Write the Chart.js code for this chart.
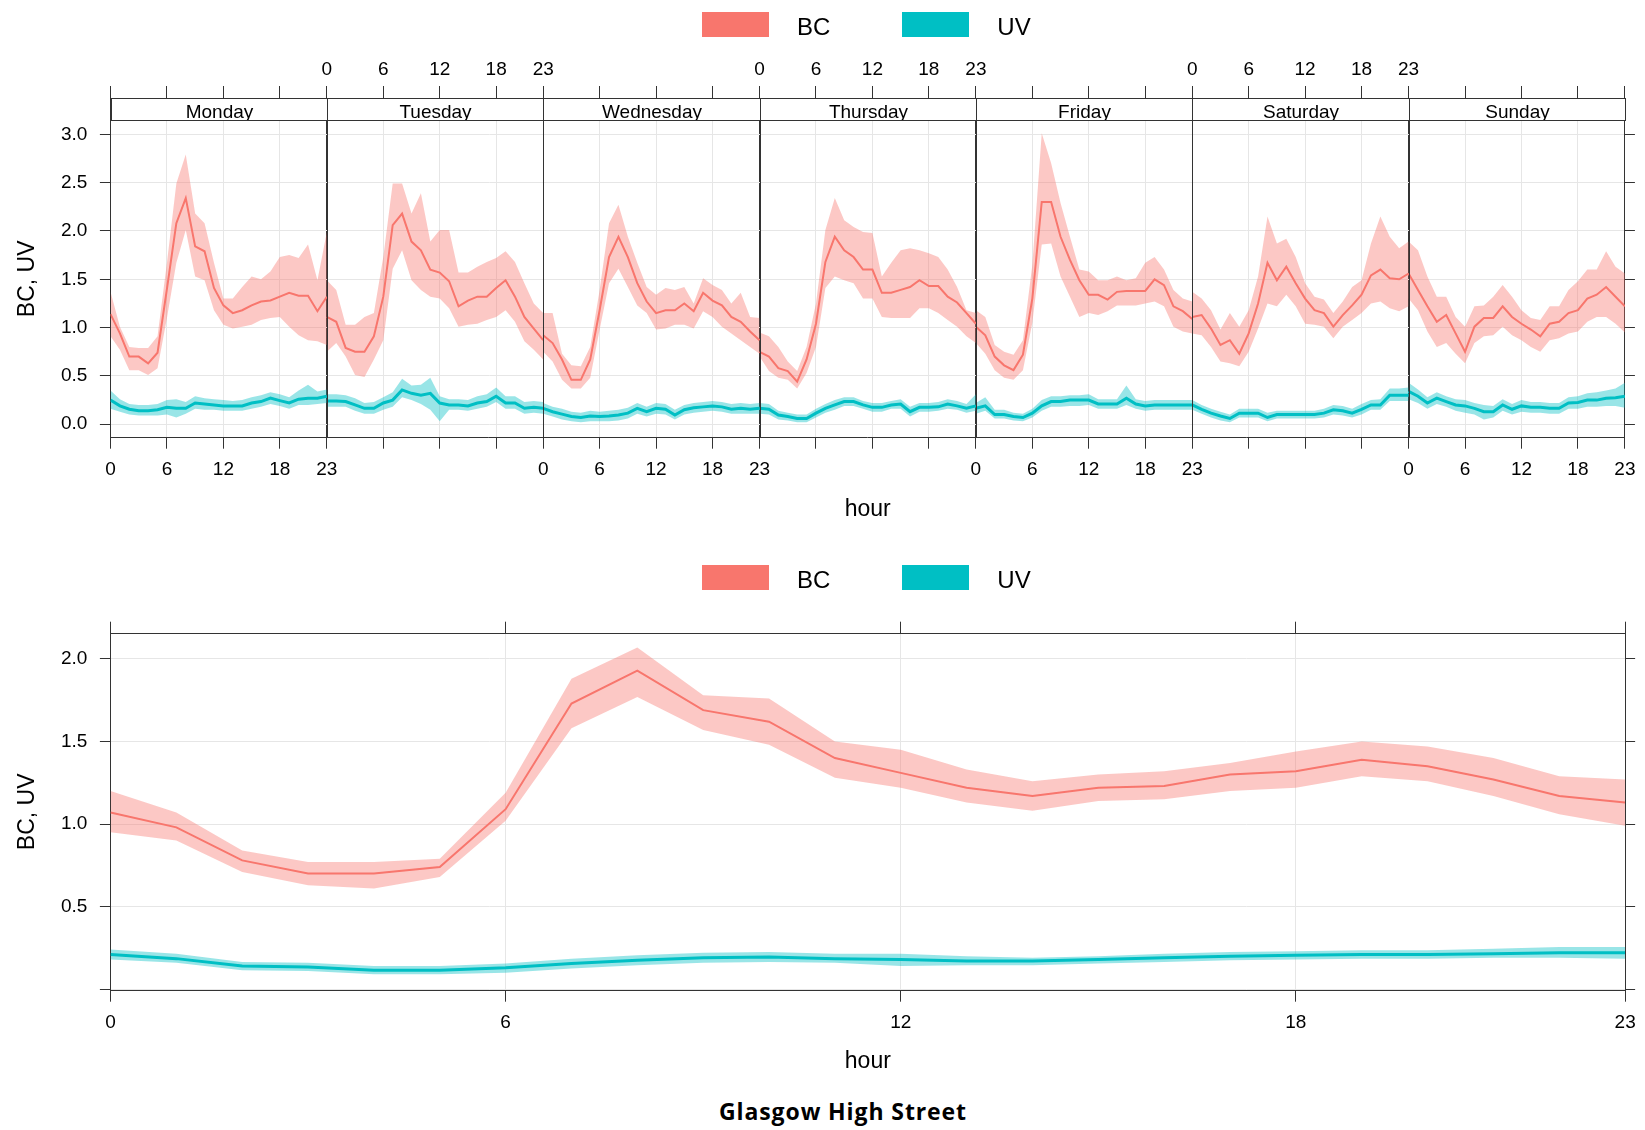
<!DOCTYPE html>
<html lang="en">
<head>
<meta charset="UTF-8">
<title>Glasgow High Street</title>
<script src="https://cdn.jsdelivr.net/npm/chart.js"></script>
<style>
  body { margin: 0; background: #fff; font-family: "Liberation Sans", Arial, sans-serif; }
  #page { position: relative; width: 1645px; height: 1130px; overflow: hidden; }
  canvas { position: absolute; left: 0; }
  .legend { position: absolute; left: 702px; display: flex; align-items: center; font-size: 24px; color: #000; }
  .legend .box { width: 67px; height: 25px; }
  .legend .txt { margin-left: 28px; margin-right: 72px; position: relative; top: 3px; }
  #title { position: absolute; top: 1095px; left: 843px; transform: translateX(-50%); white-space: nowrap;
           font: 700 23px "Open Sans", sans-serif; line-height: 32px; letter-spacing: 0.9px; color: #000; }
</style>
</head>
<body>
<div id="page">
  <canvas id="weekChart" width="1645" height="540" style="top:0"></canvas>
  <canvas id="hourChart" width="1645" height="540" style="top:540px"></canvas>
  <div class="legend" style="top:10px">
    <div class="box" style="background:#F8766D"></div><span class="txt">BC</span>
    <div class="box" style="background:#00BFC4"></div><span class="txt">UV</span>
  </div>
  <div class="legend" style="top:563px">
    <div class="box" style="background:#F8766D"></div><span class="txt">BC</span>
    <div class="box" style="background:#00BFC4"></div><span class="txt">UV</span>
  </div>
  <div id="title">Glasgow High Street</div>
</div>
<script>
  // ---- data ----
  const days = ['Monday', 'Tuesday', 'Wednesday', 'Thursday', 'Friday', 'Saturday', 'Sunday'];
  const hours = [0, 1, 2, 3, 4, 5, 6, 7, 8, 9, 10, 11, 12, 13, 14, 15, 16, 17, 18, 19, 20, 21, 22, 23];
  const hourTicks = [0, 6, 12, 18, 23];
  const weekYTicks = [0.0, 0.5, 1.0, 1.5, 2.0, 2.5, 3.0];
  const hourYTicks = [0.0, 0.5, 1.0, 1.5, 2.0];

  // BC by day of week and hour (mean, lower, upper)
  const bcMean = [
    [1.14,0.94,0.70,0.70,0.63,0.74,1.40,2.08,2.34,1.84,1.79,1.41,1.23,1.15,1.18,1.23,1.27,1.28,1.32,1.36,1.33,1.33,1.17,1.32],
    [1.11,1.06,0.79,0.75,0.75,0.91,1.32,2.06,2.18,1.89,1.80,1.60,1.57,1.48,1.22,1.28,1.32,1.32,1.41,1.49,1.32,1.11,0.99,0.87],
    [0.92,0.84,0.67,0.46,0.46,0.67,1.18,1.73,1.94,1.73,1.46,1.27,1.15,1.18,1.18,1.25,1.17,1.36,1.28,1.23,1.11,1.06,0.96,0.87],
    [0.75,0.70,0.58,0.55,0.44,0.67,1.04,1.68,1.94,1.80,1.73,1.60,1.60,1.36,1.36,1.39,1.42,1.49,1.43,1.43,1.32,1.26,1.15,1.04],
    [1.01,0.92,0.70,0.61,0.56,0.72,1.30,2.30,2.30,1.94,1.70,1.49,1.34,1.34,1.29,1.37,1.38,1.38,1.38,1.50,1.44,1.22,1.17,1.09],
    [1.11,1.13,0.99,0.82,0.87,0.73,0.94,1.25,1.67,1.49,1.63,1.46,1.30,1.18,1.15,1.01,1.13,1.23,1.34,1.54,1.60,1.51,1.50,1.56],
    [1.56,1.39,1.22,1.06,1.13,0.94,0.75,1.01,1.10,1.10,1.22,1.11,1.04,0.98,0.91,1.04,1.06,1.15,1.18,1.30,1.34,1.42,1.32,1.22]
  ];
  const bcLow = [
    [0.91,0.77,0.56,0.56,0.51,0.58,1.10,1.67,2.01,1.53,1.49,1.18,1.03,0.99,1.01,1.03,1.08,1.10,1.11,1.01,0.92,0.87,0.86,0.82],
    [0.75,0.84,0.70,0.51,0.49,0.67,0.87,1.61,1.80,1.49,1.39,1.32,1.30,1.20,1.01,1.03,1.04,1.08,1.11,1.18,1.06,0.86,0.77,0.67],
    [0.75,0.65,0.46,0.37,0.37,0.48,0.98,1.46,1.61,1.42,1.23,1.15,0.98,0.99,1.03,1.03,0.99,1.17,1.11,1.01,0.94,0.87,0.80,0.73],
    [0.70,0.55,0.48,0.46,0.37,0.53,0.80,1.41,1.53,1.49,1.46,1.30,1.30,1.11,1.10,1.10,1.10,1.20,1.20,1.15,1.08,1.01,0.91,0.84],
    [0.84,0.73,0.56,0.48,0.46,0.56,1.05,1.86,1.87,1.53,1.32,1.11,1.15,1.13,1.17,1.23,1.23,1.23,1.25,1.27,1.22,1.01,0.96,0.94],
    [0.94,0.92,0.80,0.65,0.63,0.60,0.75,0.99,1.25,1.22,1.34,1.22,1.04,1.03,1.01,0.89,1.01,1.08,1.15,1.25,1.27,1.20,1.17,1.22],
    [1.30,1.18,0.96,0.80,0.84,0.73,0.63,0.84,0.91,0.92,1.01,0.92,0.87,0.80,0.75,0.87,0.89,0.94,0.96,1.06,1.11,1.11,1.04,0.95]
  ];
  const bcHigh = [
    [1.37,1.01,0.80,0.79,0.79,0.91,1.67,2.49,2.79,2.18,2.08,1.67,1.30,1.30,1.42,1.53,1.50,1.58,1.73,1.75,1.72,1.86,1.49,1.99],
    [1.49,1.39,1.03,1.03,1.11,1.15,1.73,2.49,2.49,2.18,2.39,1.89,2.01,2.01,1.57,1.57,1.63,1.68,1.72,1.79,1.68,1.46,1.25,1.15],
    [1.15,1.15,0.73,0.61,0.60,0.80,1.39,2.08,2.27,1.94,1.67,1.42,1.34,1.41,1.39,1.42,1.25,1.51,1.44,1.39,1.25,1.36,1.11,1.10],
    [0.95,0.91,0.80,0.65,0.55,0.80,1.25,2.01,2.34,2.11,2.04,1.99,1.98,1.53,1.67,1.80,1.82,1.80,1.77,1.73,1.60,1.42,1.18,1.15],
    [1.18,1.11,0.82,0.75,0.72,0.87,1.65,3.01,2.70,2.29,1.94,1.60,1.58,1.49,1.49,1.53,1.49,1.51,1.67,1.73,1.60,1.39,1.30,1.27],
    [1.37,1.30,1.18,0.98,1.15,1.01,1.18,1.53,2.15,1.87,1.92,1.73,1.46,1.32,1.29,1.15,1.27,1.42,1.49,1.87,2.15,1.94,1.82,1.89],
    [1.89,1.80,1.53,1.32,1.32,1.11,1.01,1.22,1.23,1.32,1.44,1.32,1.18,1.10,1.08,1.22,1.22,1.39,1.48,1.60,1.60,1.79,1.63,1.56]
  ];

  // UV by day of week and hour (mean, lower, upper)
  const uvMean = [
    [0.25,0.19,0.155,0.14,0.14,0.15,0.175,0.165,0.165,0.22,0.21,0.20,0.19,0.19,0.19,0.22,0.235,0.27,0.245,0.22,0.26,0.27,0.27,0.29],
    [0.24,0.24,0.235,0.20,0.165,0.165,0.22,0.25,0.355,0.32,0.30,0.32,0.22,0.20,0.20,0.19,0.22,0.235,0.29,0.22,0.22,0.165,0.175,0.165],
    [0.165,0.13,0.105,0.08,0.07,0.085,0.08,0.085,0.095,0.115,0.165,0.13,0.165,0.155,0.095,0.15,0.17,0.18,0.19,0.18,0.155,0.165,0.155,0.165],
    [0.165,0.155,0.095,0.08,0.06,0.06,0.115,0.165,0.20,0.235,0.235,0.20,0.175,0.175,0.20,0.21,0.13,0.175,0.175,0.18,0.21,0.19,0.165,0.19],
    [0.165,0.19,0.10,0.10,0.08,0.07,0.115,0.19,0.235,0.235,0.25,0.25,0.25,0.21,0.21,0.21,0.27,0.21,0.19,0.20,0.20,0.20,0.20,0.20],
    [0.20,0.155,0.115,0.085,0.06,0.115,0.115,0.115,0.07,0.10,0.10,0.10,0.10,0.10,0.115,0.15,0.14,0.115,0.155,0.20,0.20,0.30,0.30,0.30],
    [0.34,0.29,0.22,0.27,0.235,0.20,0.19,0.165,0.13,0.13,0.20,0.155,0.19,0.175,0.175,0.165,0.165,0.22,0.225,0.25,0.25,0.27,0.275,0.29]
  ];
  const uvLow = [
    [0.16,0.13,0.10,0.09,0.09,0.09,0.10,0.07,0.11,0.16,0.15,0.15,0.14,0.14,0.14,0.16,0.18,0.21,0.19,0.16,0.20,0.20,0.21,0.22],
    [0.18,0.18,0.18,0.14,0.11,0.11,0.15,0.18,0.28,0.25,0.21,0.15,0.03,0.15,0.15,0.14,0.16,0.18,0.23,0.16,0.16,0.11,0.12,0.11],
    [0.11,0.08,0.05,0.03,0.02,0.03,0.03,0.03,0.04,0.06,0.11,0.08,0.11,0.10,0.05,0.10,0.12,0.13,0.14,0.13,0.11,0.11,0.11,0.11],
    [0.11,0.10,0.05,0.04,0.02,0.02,0.07,0.12,0.15,0.19,0.19,0.16,0.13,0.13,0.16,0.16,0.08,0.13,0.13,0.14,0.16,0.15,0.12,0.14],
    [0.11,0.14,0.06,0.06,0.04,0.03,0.07,0.14,0.18,0.18,0.19,0.19,0.20,0.16,0.16,0.16,0.20,0.16,0.14,0.15,0.15,0.15,0.15,0.15],
    [0.15,0.11,0.07,0.04,0.02,0.07,0.07,0.07,0.03,0.06,0.06,0.06,0.06,0.06,0.07,0.10,0.09,0.07,0.10,0.15,0.15,0.24,0.24,0.24],
    [0.26,0.22,0.16,0.21,0.18,0.14,0.12,0.10,0.05,0.07,0.14,0.10,0.13,0.12,0.12,0.11,0.11,0.16,0.16,0.18,0.18,0.19,0.19,0.17]
  ];
  const uvHigh = [
    [0.35,0.26,0.21,0.20,0.20,0.21,0.25,0.26,0.23,0.29,0.27,0.26,0.25,0.24,0.25,0.28,0.30,0.33,0.31,0.28,0.35,0.41,0.34,0.36],
    [0.31,0.31,0.30,0.27,0.22,0.23,0.28,0.33,0.47,0.40,0.41,0.48,0.29,0.26,0.26,0.25,0.29,0.31,0.38,0.29,0.29,0.23,0.24,0.23],
    [0.22,0.18,0.16,0.13,0.12,0.14,0.13,0.14,0.15,0.17,0.22,0.18,0.22,0.21,0.15,0.20,0.22,0.23,0.24,0.23,0.21,0.22,0.21,0.22],
    [0.22,0.21,0.14,0.12,0.10,0.10,0.16,0.21,0.25,0.28,0.28,0.24,0.22,0.22,0.24,0.26,0.18,0.22,0.22,0.23,0.26,0.24,0.21,0.31],
    [0.22,0.28,0.15,0.15,0.12,0.11,0.16,0.25,0.29,0.29,0.30,0.30,0.31,0.26,0.26,0.26,0.40,0.26,0.24,0.25,0.25,0.25,0.25,0.25],
    [0.25,0.20,0.16,0.13,0.10,0.16,0.16,0.16,0.12,0.14,0.14,0.14,0.14,0.14,0.16,0.20,0.19,0.16,0.21,0.25,0.26,0.37,0.37,0.38],
    [0.43,0.36,0.28,0.33,0.29,0.26,0.25,0.22,0.20,0.19,0.26,0.21,0.25,0.23,0.23,0.22,0.22,0.28,0.29,0.32,0.33,0.35,0.37,0.43]
  ];

  // hourly averages (bottom panel)
  const hourBC     = [1.07,0.98,0.78,0.70,0.70,0.74,1.09,1.73,1.93,1.69,1.62,1.40,1.31,1.22,1.17,1.22,1.23,1.30,1.32,1.39,1.35,1.27,1.17,1.13];
  const hourBCLow  = [0.95,0.90,0.71,0.63,0.61,0.68,1.02,1.58,1.77,1.57,1.48,1.28,1.22,1.13,1.08,1.14,1.15,1.20,1.22,1.29,1.26,1.17,1.06,0.99];
  const hourBCHigh = [1.20,1.07,0.84,0.77,0.77,0.79,1.19,1.88,2.07,1.78,1.76,1.50,1.45,1.33,1.26,1.30,1.32,1.37,1.44,1.50,1.47,1.40,1.29,1.27];
  const hourUV     = [0.21,0.185,0.14,0.135,0.115,0.115,0.13,0.155,0.175,0.19,0.195,0.185,0.18,0.17,0.17,0.18,0.19,0.20,0.205,0.21,0.21,0.215,0.22,0.22];
  const hourUVLow  = [0.18,0.16,0.115,0.11,0.09,0.09,0.10,0.125,0.145,0.16,0.165,0.16,0.14,0.145,0.145,0.155,0.165,0.175,0.18,0.185,0.185,0.19,0.19,0.185];
  const hourUVHigh = [0.24,0.215,0.165,0.16,0.14,0.14,0.155,0.185,0.205,0.22,0.225,0.215,0.215,0.20,0.19,0.20,0.215,0.225,0.23,0.235,0.235,0.245,0.255,0.255];

  // ---- styling ----
  const BC_LINE = '#F8766D', BC_FILL = 'rgba(248,118,109,0.4)';
  const UV_LINE = '#00BFC4', UV_FILL = 'rgba(0,191,196,0.4)';
  const AXIS = '#333333', GRID = '#e6e6e6';
  const TICK_FONT = { size: 19 };
  const TITLE_FONT = { size: 23 };
  const SPAN = 23;   // each day panel runs 0..23

  Chart.defaults.font.family = '"Liberation Sans", Arial, sans-serif';
  Chart.defaults.color = '#000';

  function bandSets(low, high, mean, xOf, fillColor, lineColor, lineWidth) {
    const pts = arr => hours.map((h, i) => ({ x: xOf(h), y: arr[i] }));
    return [
      { data: pts(low), borderWidth: 0, borderColor: 'transparent', pointRadius: 0, fill: false, order: 2 },
      { data: pts(high), borderWidth: 0, borderColor: 'transparent', pointRadius: 0, fill: '-1', backgroundColor: fillColor, order: 2 },
      { data: pts(mean), borderWidth: lineWidth, borderColor: lineColor, pointRadius: 0, fill: false, order: 1 }
    ];
  }

  // which hour label shows on the bottom (parity 0) or top (parity 1) of the week panel
  function weekHourLabel(v, parity) {
    const k = Math.round(v);
    const d = Math.floor(k / SPAN), h = k % SPAN;
    if (h !== 0) return d % 2 === parity ? String(h) : '';
    if (d - 1 >= 0 && (d - 1) % 2 === parity) return '23';
    if (d < days.length && d % 2 === parity) return '0';
    return '';
  }

  const weekTicks = [...new Set(days.flatMap((_, d) => hourTicks.map(h => d * SPAN + h)))];
  const weekMax = days.length * SPAN;

  // strips with day names + panel borders drawn over the data
  const stripPlugin = {
    id: 'strips',
    afterDatasetsDraw(chart) {
      const { ctx, chartArea, scales } = chart;
      ctx.save();
      ctx.strokeStyle = AXIS;
      ctx.lineWidth = 1;
      for (let d = 1; d < days.length; d++) {
        const x = Math.round(scales.x.getPixelForValue(d * SPAN)) + 0.5;
        ctx.beginPath();
        ctx.moveTo(x, chartArea.top);
        ctx.lineTo(x, chartArea.bottom);
        ctx.stroke();
      }
      ctx.restore();
    },
    afterDraw(chart) {
      const { ctx, chartArea, scales } = chart;
      const top = Math.round(chartArea.top - 22.3) + 0.5, bottom = Math.round(chartArea.top) + 0.5;
      ctx.save();
      ctx.font = '19px "Liberation Sans", Arial, sans-serif';
      days.forEach((day, d) => {
        const x0 = Math.round(scales.x.getPixelForValue(d * SPAN)) + 0.5;
        const x1 = Math.round(scales.x.getPixelForValue((d + 1) * SPAN)) + 0.5;
        ctx.fillStyle = '#fff';
        ctx.fillRect(x0, top, x1 - x0, bottom - top);
        ctx.save();
        ctx.beginPath();
        ctx.rect(x0, top, x1 - x0, bottom - top);
        ctx.clip();
        ctx.fillStyle = '#000';
        ctx.textAlign = 'center';
        ctx.textBaseline = 'alphabetic';
        ctx.fillText(day, (x0 + x1) / 2, bottom - 2.5);
        ctx.restore();
        ctx.strokeStyle = AXIS;
        ctx.lineWidth = 1;
        ctx.strokeRect(x0, top, x1 - x0, bottom - top);
      });
      ctx.restore();
    }
  };

  // ---- week chart ----
  const weekSets = [];
  days.forEach((day, d) => {
    const xOf = h => d * SPAN + h;
    weekSets.push(...bandSets(bcLow[d], bcHigh[d], bcMean[d], xOf, BC_FILL, BC_LINE, 2));
    weekSets.push(...bandSets(uvLow[d], uvHigh[d], uvMean[d], xOf, UV_FILL, UV_LINE, 3));
  });

  new Chart(document.getElementById('weekChart').getContext('2d'), {
    type: 'line',
    data: { datasets: weekSets },
    plugins: [stripPlugin],
    options: {
      responsive: false,
      animation: false,
      events: [],
      layout: { padding: 0 },
      plugins: { legend: { display: false }, tooltip: { enabled: false } },
      scales: {
        x: {
          type: 'linear', position: 'bottom', min: 0, max: weekMax,
          afterBuildTicks: s => { s.ticks = weekTicks.map(v => ({ value: v })); },
          ticks: { autoSkip: false, maxRotation: 0, padding: 9.5, font: TICK_FONT, callback: v => weekHourLabel(v, 0) },
          grid: { color: c => (c.tick && c.tick.value % SPAN === 0 ? AXIS : GRID), tickColor: AXIS, tickLength: 11 },
          border: { color: AXIS },
          title: { display: true, text: 'hour', font: TITLE_FONT, padding: { top: 0, bottom: 17 } },
          afterFit: s => { s.height = 102.3; }
        },
        xTop: {
          type: 'linear', position: 'top', min: 0, max: weekMax,
          afterBuildTicks: s => { s.ticks = weekTicks.map(v => ({ value: v })); },
          ticks: { autoSkip: false, maxRotation: 0, padding: 4.6, font: TICK_FONT, callback: v => weekHourLabel(v, 1) },
          grid: { drawOnChartArea: false, tickColor: AXIS, tickLength: 34 },
          border: { color: AXIS },
          afterFit: s => { s.height = 120; }
        },
        y: {
          position: 'left', min: -0.139, max: 3.148,
          afterBuildTicks: s => { s.ticks = weekYTicks.map(v => ({ value: v })); },
          ticks: { padding: 12.6, font: TICK_FONT, callback: v => v.toFixed(1) },
          grid: { color: GRID, tickColor: AXIS, tickLength: 10.6 },
          border: { color: AXIS },
          title: { display: true, text: 'BC, UV', font: TITLE_FONT, padding: { top: 14, bottom: 0 } },
          afterFit: s => { s.width = 110.5; }
        },
        yRight: {
          position: 'right', min: -0.139, max: 3.148,
          afterBuildTicks: s => { s.ticks = weekYTicks.map(v => ({ value: v })); },
          ticks: { callback: () => '' },
          grid: { drawOnChartArea: false, tickColor: AXIS, tickLength: 10 },
          border: { color: AXIS },
          afterFit: s => { s.width = 19.3; }
        }
      }
    }
  });

  // ---- hour-of-day chart ----
  const hourSets = [
    ...bandSets(hourBCLow, hourBCHigh, hourBC, h => h, BC_FILL, BC_LINE, 2),
    ...bandSets(hourUVLow, hourUVHigh, hourUV, h => h, UV_FILL, UV_LINE, 3)
  ];

  new Chart(document.getElementById('hourChart').getContext('2d'), {
    type: 'line',
    data: { datasets: hourSets },
    options: {
      responsive: false,
      animation: false,
      events: [],
      layout: { padding: 0 },
      plugins: { legend: { display: false }, tooltip: { enabled: false } },
      scales: {
        x: {
          type: 'linear', position: 'bottom', min: 0, max: 23,
          afterBuildTicks: s => { s.ticks = hourTicks.map(v => ({ value: v })); },
          ticks: { autoSkip: false, maxRotation: 0, padding: 9.3, font: TICK_FONT, callback: v => String(v) },
          grid: { color: c => (c.tick && (c.tick.value === 0 || c.tick.value === 23) ? AXIS : GRID), tickColor: AXIS, tickLength: 11.7 },
          border: { color: AXIS },
          title: { display: true, text: 'hour', font: TITLE_FONT, padding: { top: 0, bottom: 4.5 } },
          afterFit: s => { s.height = 90; }
        },
        xTop: {
          type: 'linear', position: 'top', min: 0, max: 23,
          afterBuildTicks: s => { s.ticks = hourTicks.map(v => ({ value: v })); },
          ticks: { callback: () => '' },
          grid: { drawOnChartArea: false, tickColor: AXIS, tickLength: 12 },
          border: { color: AXIS },
          afterFit: s => { s.height = 93.7; }
        },
        y: {
          position: 'left', min: -0.005, max: 2.153,
          afterBuildTicks: s => { s.ticks = hourYTicks.map(v => ({ value: v })); },
          ticks: { padding: 12.6, font: TICK_FONT, callback: v => (v === 0 ? '' : v.toFixed(1)) },
          grid: { color: GRID, tickColor: AXIS, tickLength: 10.6 },
          border: { color: AXIS },
          title: { display: true, text: 'BC, UV', font: TITLE_FONT, padding: { top: 14, bottom: 0 } },
          afterFit: s => { s.width = 110.5; }
        },
        yRight: {
          position: 'right', min: -0.005, max: 2.153,
          afterBuildTicks: s => { s.ticks = hourYTicks.map(v => ({ value: v })); },
          ticks: { callback: () => '' },
          grid: { drawOnChartArea: false, tickColor: AXIS, tickLength: 10 },
          border: { color: AXIS },
          afterFit: s => { s.width = 19.3; }
        }
      }
    }
  });
</script>
</body>
</html>
